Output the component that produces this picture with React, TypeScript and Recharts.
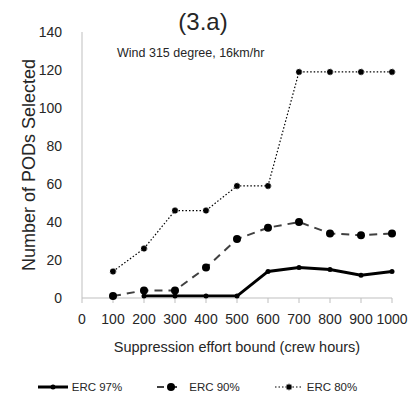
import React from "react";
import { LineChart, Line, XAxis, YAxis, Legend, Label } from "recharts";

const effort = [100, 200, 300, 400, 500, 600, 700, 800, 900, 1000];
const erc97 = [null, 1, 1, 1, 1, 14, 16, 15, 12, 14];
const erc90 = [1, 4, 4, 16, 31, 37, 40, 34, 33, 34];
const erc80 = [14, 26, 46, 46, 59, 59, 119, 119, 119, 119];

const xTicks = [0, 100, 200, 300, 400, 500, 600, 700, 800, 900, 1000];
const yTicks = [0, 20, 40, 60, 80, 100, 120, 140];

const data = effort.map((x, i) => ({
  x,
  erc97: erc97[i],
  erc90: erc90[i],
  erc80: erc80[i],
}));

const FONT = '"Liberation Sans", Arial, sans-serif';
const TEXT = "#262626";
const AXIS = "#bfbfbf";

// legend drawn by hand so the icons look like the Excel ones
function LegendContent() {
  const item = (icon: React.ReactNode, label: string, w: number) => (
    <div style={{ display: "flex", alignItems: "center", marginRight: 34 }}>
      <svg width={w} height={12} style={{ marginRight: 3 }}>
        {icon}
      </svg>
      <span>{label}</span>
    </div>
  );
  return (
    <div
      style={{
        display: "flex",
        justifyContent: "center",
        paddingTop: 13,
        paddingLeft: 36,
        fontFamily: FONT,
        fontSize: 11.5,
        color: TEXT,
      }}
    >
      {item(
        <>
          <line x1={1} y1={6} x2={31} y2={6} stroke="#000" strokeWidth={3} />
          <circle cx={16} cy={6} r={2.5} fill="#000" />
        </>,
        "ERC 97%",
        32
      )}
      {item(
        <>
          <line x1={1} y1={6} x2={25} y2={6} stroke="#404040" strokeWidth={2} strokeDasharray="7 6" />
          <circle cx={15} cy={6} r={4} fill="#000" />
        </>,
        "ERC 90%",
        30
      )}
      {item(
        <>
          <line x1={1} y1={6} x2={29} y2={6} stroke="#000" strokeWidth={1.2} strokeDasharray="1.5 2" />
          <circle cx={15} cy={6} r={3} fill="#000" stroke="#888" strokeWidth={1} />
        </>,
        "ERC 80%",
        30
      )}
    </div>
  );
}

export default function App() {
  return (
    <div style={{ position: "relative", width: 413, height: 398, background: "#fff" }}>
      <style>{`body{margin:0}`}</style>
      <div
        style={{
          position: "absolute",
          left: 0,
          width: 406,
          top: 8,
          textAlign: "center",
          fontFamily: FONT,
          fontSize: 24,
          color: TEXT,
        }}
      >
        (3.a)
      </div>
      <div
        style={{
          position: "absolute",
          left: 117,
          top: 46,
          fontFamily: FONT,
          fontSize: 12.5,
          color: TEXT,
        }}
      >
        Wind 315 degree, 16km/hr
      </div>
      <LineChart
        width={413}
        height={398}
        data={data}
        margin={{ top: 32, right: 21, left: 0, bottom: 0 }}
        style={{ fontFamily: FONT }}
      >
        <XAxis
          dataKey="x"
          type="number"
          domain={[0, 1000]}
          ticks={xTicks}
          interval={0}
          height={70}
          stroke={AXIS}
          tickSize={5}
          tickMargin={11}
          tick={{ fill: TEXT, fontSize: 14 }}
        >
          <Label
            value="Suppression effort bound (crew hours)"
            position="insideBottom"
            offset={16}
            style={{ fill: TEXT, fontSize: 14.5 }}
          />
        </XAxis>
        <YAxis
          type="number"
          domain={[0, 140]}
          ticks={yTicks}
          interval={0}
          width={82}
          stroke={AXIS}
          tickLine={false}
          tickMargin={14}
          tick={{ fill: TEXT, fontSize: 14 }}
        >
          <Label
            content={(props: any) => {
              const vb = props.viewBox || {};
              const cx = (vb.x || 0) + 29;
              const cy = (vb.y || 0) + (vb.height || 0) / 2;
              return (
                <text
                  x={cx}
                  y={cy}
                  transform={`rotate(-90 ${cx} ${cy})`}
                  textAnchor="middle"
                  dominantBaseline="central"
                  fill={TEXT}
                  fontSize={18}
                >
                  Number of PODs Selected
                </text>
              );
            }}
          />
        </YAxis>
        <Legend verticalAlign="bottom" height={30} content={() => <LegendContent />} />
        <Line
          dataKey="erc97"
          name="ERC 97%"
          stroke="#000"
          strokeWidth={3}
          dot={{ r: 2.5, fill: "#000", stroke: "#000", strokeWidth: 0 }}
          connectNulls={false}
          isAnimationActive={false}
        />
        <Line
          dataKey="erc90"
          name="ERC 90%"
          stroke="#404040"
          strokeWidth={2}
          strokeDasharray="8 6"
          dot={{ r: 4, fill: "#000", stroke: "#000", strokeWidth: 0 }}
          isAnimationActive={false}
        />
        <Line
          dataKey="erc80"
          name="ERC 80%"
          stroke="#000"
          strokeWidth={1.2}
          strokeDasharray="1.5 2"
          dot={{ r: 3, fill: "#000", stroke: "#888", strokeWidth: 1 }}
          isAnimationActive={false}
        />
      </LineChart>
    </div>
  );
}
